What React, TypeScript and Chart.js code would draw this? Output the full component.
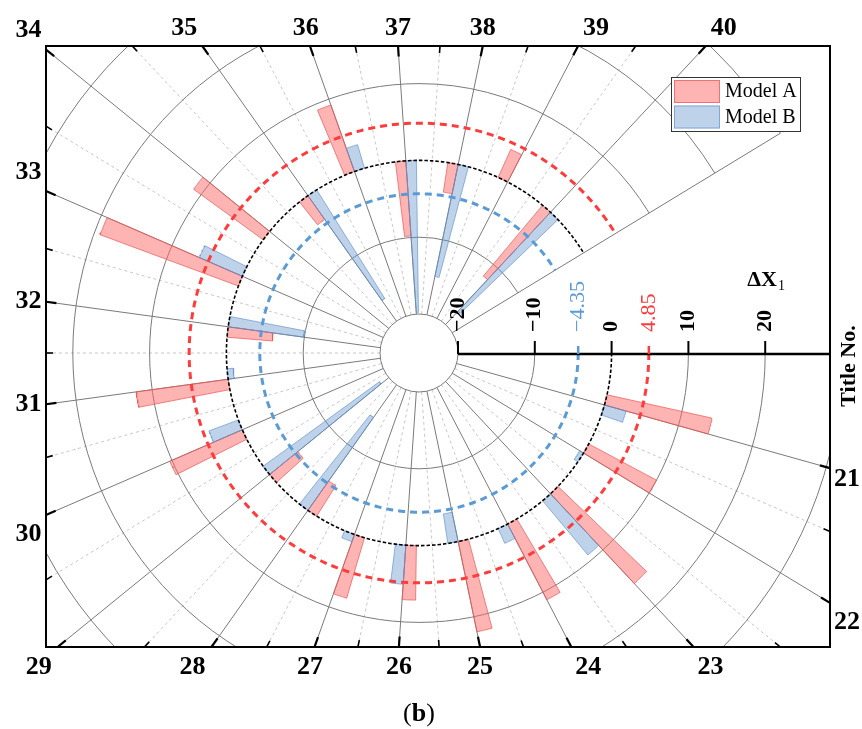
import { useEffect, useRef } from 'react';
import { Chart, registerables } from 'chart.js';

Chart.register(...registerables);

// ---------------- data ----------------
const categories = [21, 22, 23, 24, 25, 26, 27, 28, 29, 30, 31, 32, 33, 34, 35, 36, 37, 38, 39, 40];
const modelA = [14.0, 10.0, 16.0, 11.1, 12.0, 7.1, 8.2, -4.7, -4.7, 10.3, 12.1, -5.9, 19.2, 11.2, -3.8, 9.2, -9.8, -3.9, 4.0, -12.0];
const modelB = [2.9, -0.6, 9.2, 2.1, -3.9, 5.1, 1.0, -14.8, -18.7, 4.1, -0.8, -9.9, 6.1, 0, -16.7, 3.2, -19.8, -14.9, 0, -17.6];
const seriesNames = ['Model A', 'Model B'];
const meanA = 4.85;
const meanB = -4.35;
const radialTicks = [-20, -10, 0, 10, 20];
const gridCircles = [-10, 10, 20, 30];
const radialTitle = 'ΔX';
const radialTitleSub = '1';
const angularTitle = 'Title No.';
const panelLabel = 'b';

// ---------------- geometry / style ----------------
const ANGLE_MIN = 20;
const ANGLE_MAX = 41;
const DEG_PER_UNIT = 360 / 23;
const RADIAL_MIN = -20;
const BAR_WIDTH = 0.2;

const W = 862;
const H = 729;
const FRAME = { left: 46, top: 46, right: 830, bottom: 647 };
const CENTER = { x: 419, y: 353 };
const PX = 7.68; // pixels per radial unit
const HOLE = 39 / PX; // inner hole radius in radial units

const RED_FILL = 'rgba(255,105,105,0.5)';
const RED_LINE = 'rgba(235,85,85,0.7)';
const BLUE_FILL = 'rgba(100,150,205,0.42)';
const BLUE_LINE = 'rgba(95,145,205,0.65)';
const RED_MEAN = '#FF3B3B';
const BLUE_MEAN = '#5B9BD5';
const SERIF = '"Liberation Serif", "Times New Roman", serif';

const theta = (a: number) => ((a - ANGLE_MIN) * DEG_PER_UNIT * Math.PI) / 180;
const radius = (v: number) => HOLE + v - RADIAL_MIN;
const toXY = (a: number, v: number) => {
  const t = theta(a);
  const r = radius(v);
  return { x: r * Math.cos(t), y: -r * Math.sin(t) };
};

function sector(a0: number, a1: number, v0: number, v1: number) {
  const pts: { x: number; y: number }[] = [];
  const n = 8;
  for (let i = 0; i <= n; i++) pts.push(toXY(a0 + ((a1 - a0) * i) / n, v0));
  for (let i = n; i >= 0; i--) pts.push(toXY(a0 + ((a1 - a0) * i) / n, v1));
  pts.push(pts[0]);
  return pts;
}

function arcPoints(v: number) {
  const pts: { x: number; y: number }[] = [];
  for (let a = ANGLE_MIN; a <= ANGLE_MAX + 1e-9; a += 0.05) pts.push(toXY(a, v));
  return pts;
}

function buildDatasets() {
  const ds: any[] = [];
  categories.forEach((c, i) => {
    if (modelA[i] !== 0)
      ds.push({
        label: seriesNames[0],
        data: sector(c - BAR_WIDTH, c, 0, modelA[i]),
        backgroundColor: RED_FILL,
        borderColor: RED_LINE,
        borderWidth: 1,
        fill: 'shape',
        order: 3,
      });
    if (modelB[i] !== 0)
      ds.push({
        label: seriesNames[1],
        data: sector(c, c + BAR_WIDTH, 0, modelB[i]),
        backgroundColor: BLUE_FILL,
        borderColor: BLUE_LINE,
        borderWidth: 1,
        fill: 'shape',
        order: 2,
      });
  });
  ds.push({ label: 'zero', data: arcPoints(0), borderColor: '#000', borderWidth: 1.6, borderDash: [3.5, 2], fill: false, order: 1 });
  ds.push({ label: 'meanA', data: arcPoints(meanA), borderColor: RED_MEAN, borderWidth: 3, borderDash: [7, 5], fill: false, order: 1 });
  ds.push({ label: 'meanB', data: arcPoints(meanB), borderColor: BLUE_MEAN, borderWidth: 3, borderDash: [7, 5], fill: false, order: 1 });
  return ds;
}

function frameHit(cx: number, cy: number, dx: number, dy: number, ca: any) {
  let t = Infinity;
  let side = '';
  if (dx > 1e-9) { const tt = (ca.right - cx) / dx; if (tt < t) { t = tt; side = 'right'; } }
  if (dx < -1e-9) { const tt = (ca.left - cx) / dx; if (tt < t) { t = tt; side = 'left'; } }
  if (dy > 1e-9) { const tt = (ca.bottom - cy) / dy; if (tt < t) { t = tt; side = 'bottom'; } }
  if (dy < -1e-9) { const tt = (ca.top - cy) / dy; if (tt < t) { t = tt; side = 'top'; } }
  return { x: cx + t * dx, y: cy + t * dy, side };
}
const rampV = (d: number) => Math.sign(d) * Math.min(1, Math.max(0, (Math.abs(d) - 0.15) / 0.2));
const rampH = (d: number) => Math.sign(d) * Math.min(1, Math.max(0, (Math.abs(d) - 0.3) / 0.15));
const fmt = (v: number) => (v < 0 ? '\u2212' + Math.abs(v) : String(v));

const decor = {
  id: 'polarDecor',
  beforeDatasetsDraw(chart: any) {
    const { ctx, chartArea: ca, scales } = chart;
    const cx = scales.x.getPixelForValue(0);
    const cy = scales.y.getPixelForValue(0);
    const k = scales.x.getPixelForValue(1) - cx;
    const rp = (v: number) => radius(v) * k;
    ctx.save();
    ctx.beginPath();
    ctx.rect(ca.left, ca.top, ca.right - ca.left, ca.bottom - ca.top);
    ctx.clip();
    // minor radial lines
    ctx.strokeStyle = '#c2c2c2';
    ctx.lineWidth = 0.9;
    ctx.setLineDash([3, 3]);
    categories.slice(0, -1).forEach((c) => {
      const t = theta(c + 0.5);
      ctx.beginPath();
      ctx.moveTo(cx + rp(RADIAL_MIN) * Math.cos(t), cy + rp(RADIAL_MIN) * Math.sin(t));
      ctx.lineTo(cx + 1500 * Math.cos(t), cy + 1500 * Math.sin(t));
      ctx.stroke();
    });
    ctx.setLineDash([]);
    ctx.strokeStyle = '#7a7a7a';
    ctx.lineWidth = 1;
    categories.forEach((c) => {
      const t = theta(c);
      ctx.beginPath();
      ctx.moveTo(cx + rp(RADIAL_MIN) * Math.cos(t), cy + rp(RADIAL_MIN) * Math.sin(t));
      ctx.lineTo(cx + 1500 * Math.cos(t), cy + 1500 * Math.sin(t));
      ctx.stroke();
    });
    // end line
    {
      const t = theta(ANGLE_MAX);
      const rOut = rp(gridCircles[gridCircles.length - 1]);
      ctx.beginPath();
      ctx.moveTo(cx + rp(RADIAL_MIN) * Math.cos(t), cy + rp(RADIAL_MIN) * Math.sin(t));
      ctx.lineTo(cx + rOut * Math.cos(t), cy + rOut * Math.sin(t));
      ctx.stroke();
    }
    gridCircles.forEach((v) => {
      ctx.beginPath();
      ctx.arc(cx, cy, rp(v), theta(ANGLE_MIN), theta(ANGLE_MAX));
      ctx.stroke();
    });
    ctx.beginPath();
    ctx.arc(cx, cy, rp(RADIAL_MIN), 0, Math.PI * 2);
    ctx.stroke();
    ctx.restore();
  },
  afterDatasetsDraw(chart: any) {
    const { ctx, chartArea: ca, scales } = chart;
    const cx = scales.x.getPixelForValue(0);
    const cy = scales.y.getPixelForValue(0);
    const k = scales.x.getPixelForValue(1) - cx;
    const rp = (v: number) => radius(v) * k;
    ctx.save();
    // radial axis
    const ay = cy + 1;
    ctx.strokeStyle = '#000';
    ctx.lineWidth = 2.5;
    ctx.beginPath();
    ctx.moveTo(cx + rp(RADIAL_MIN), ay);
    ctx.lineTo(ca.right, ay);
    ctx.stroke();
    ctx.lineWidth = 2;
    radialTicks.forEach((v) => {
      ctx.beginPath();
      ctx.moveTo(cx + rp(v), ay);
      ctx.lineTo(cx + rp(v), ay - 13);
      ctx.stroke();
    });
    ([[meanA, RED_MEAN], [meanB, BLUE_MEAN]] as [number, string][]).forEach(([v, col]) => {
      ctx.strokeStyle = col;
      ctx.lineWidth = 2.5;
      ctx.beginPath();
      ctx.moveTo(cx + rp(v), ay);
      ctx.lineTo(cx + rp(v), ay - 8);
      ctx.stroke();
    });
    const rotLabel = (x: number, text: string, font: string, color: string) => {
      ctx.save();
      ctx.translate(x, ay - 22);
      ctx.rotate(-Math.PI / 2);
      ctx.font = font;
      ctx.fillStyle = color;
      ctx.textAlign = 'left';
      ctx.textBaseline = 'middle';
      ctx.fillText(text, 0, 0);
      ctx.restore();
    };
    radialTicks.forEach((v) => rotLabel(cx + rp(v), fmt(v), `bold 22px ${SERIF}`, '#000'));
    rotLabel(cx + rp(meanA), fmt(meanA), `22px ${SERIF}`, RED_MEAN);
    rotLabel(cx + rp(meanB), fmt(meanB), `22px ${SERIF}`, BLUE_MEAN);
    // radial title
    {
      const x0 = cx + rp(20) - 18;
      const y0 = cy - 67;
      ctx.fillStyle = '#000';
      ctx.font = `bold 22px ${SERIF}`;
      ctx.textAlign = 'left';
      ctx.textBaseline = 'alphabetic';
      ctx.fillText(radialTitle, x0, y0);
      const w = ctx.measureText(radialTitle).width;
      ctx.font = `14px ${SERIF}`;
      ctx.fillText(radialTitleSub, x0 + w + 1, y0 + 4);
    }
    // frame
    ctx.strokeStyle = '#000';
    ctx.lineWidth = 2;
    ctx.strokeRect(ca.left, ca.top, ca.right - ca.left, ca.bottom - ca.top);
    // frame ticks + labels
    const ticks: { a: number; major: boolean }[] = [];
    categories.forEach((c) => ticks.push({ a: c, major: true }));
    categories.slice(0, -1).forEach((c) => ticks.push({ a: c + 0.5, major: false }));
    ticks.forEach(({ a, major }) => {
      const t = theta(a);
      const dx = Math.cos(t);
      const dy = Math.sin(t);
      const P = frameHit(cx, cy, dx, dy, ca);
      const L = major ? 10.5 : 7;
      ctx.strokeStyle = '#000';
      ctx.lineWidth = major ? 2.2 : 1.6;
      ctx.beginPath();
      ctx.moveTo(P.x, P.y);
      ctx.lineTo(P.x - L * dx, P.y - L * dy);
      ctx.stroke();
      if (!major) return;
      let lx = P.x;
      let ly = P.y;
      if (P.side === 'top') { lx = P.x + 18 * rampH(dx); ly = P.y - 18; }
      else if (P.side === 'bottom') { lx = P.x + (dx < 0 ? 19 : 17) * rampH(dx); ly = P.y + 20.5; }
      else if (P.side === 'left') { lx = P.x - 17.5; ly = P.y + 19 * rampV(dy); }
      else { lx = P.x + 17; ly = P.y + 19 * rampV(dy); }
      ctx.fillStyle = '#000';
      ctx.font = `bold 26px ${SERIF}`;
      ctx.textAlign = 'center';
      ctx.textBaseline = 'middle';
      ctx.fillText(String(a), lx, ly);
    });
    // angular title
    ctx.save();
    ctx.translate(ca.right + 19, cy + 13);
    ctx.rotate(-Math.PI / 2);
    ctx.font = `bold 22px ${SERIF}`;
    ctx.textAlign = 'center';
    ctx.textBaseline = 'middle';
    ctx.fillStyle = '#000';
    ctx.fillText(angularTitle, 0, 0);
    ctx.restore();
    // legend
    {
      const lx = ca.right - 159;
      const ly = ca.top + 31;
      const lw = 129;
      const lh = 54;
      ctx.fillStyle = '#fff';
      ctx.fillRect(lx, ly, lw, lh);
      ctx.strokeStyle = '#333';
      ctx.lineWidth = 1;
      ctx.strokeRect(lx + 0.5, ly + 0.5, lw, lh);
      const entries: [string, string, string][] = [
        [seriesNames[0], RED_FILL, RED_LINE],
        [seriesNames[1], BLUE_FILL, BLUE_LINE],
      ];
      entries.forEach(([name, fill, line], i) => {
        const sy = ly + 3 + i * 25.5;
        ctx.fillStyle = fill;
        ctx.fillRect(lx + 3, sy, 46, 23);
        ctx.strokeStyle = line;
        ctx.strokeRect(lx + 3.5, sy + 0.5, 45, 22);
        ctx.fillStyle = '#000';
        ctx.font = `20px ${SERIF}`;
        ctx.textAlign = 'left';
        ctx.textBaseline = 'middle';
        ctx.fillText(name, lx + 54, sy + 12);
      });
    }
    // panel label (b)
    {
      const parts: [string, string][] = [['(', `26px ${SERIF}`], [panelLabel, `bold 26px ${SERIF}`], [')', `26px ${SERIF}`]];
      let total = 0;
      parts.forEach(([s, f]) => { ctx.font = f; total += ctx.measureText(s).width; });
      let x = cx - total / 2;
      const y = ca.bottom + 74;
      ctx.fillStyle = '#000';
      ctx.textAlign = 'left';
      ctx.textBaseline = 'alphabetic';
      parts.forEach(([s, f]) => { ctx.font = f; ctx.fillText(s, x, y); x += ctx.measureText(s).width; });
    }
    ctx.restore();
  },
};

export default function App() {
  const ref = useRef<HTMLCanvasElement>(null);
  useEffect(() => {
    const chart = new Chart(ref.current as HTMLCanvasElement, {
      type: 'line',
      data: { datasets: buildDatasets() },
      options: {
        animation: false,
        responsive: true,
        maintainAspectRatio: false,
        events: [],
        layout: { padding: { left: FRAME.left, top: FRAME.top, right: W - FRAME.right, bottom: H - FRAME.bottom } },
        elements: { point: { radius: 0 }, line: { tension: 0 } },
        scales: {
          x: { type: 'linear', display: false, min: (FRAME.left - CENTER.x) / PX, max: (FRAME.right - CENTER.x) / PX },
          y: { type: 'linear', display: false, min: -(FRAME.bottom - CENTER.y) / PX, max: (CENTER.y - FRAME.top) / PX },
        },
        plugins: { legend: { display: false }, tooltip: { enabled: false }, title: { display: false } },
      } as any,
      plugins: [decor],
    });
    return () => chart.destroy();
  }, []);
  return (
    <div style={{ position: 'absolute', left: 0, top: 0, width: W, height: H, background: '#fff' }}>
      <canvas ref={ref} />
    </div>
  );
}
